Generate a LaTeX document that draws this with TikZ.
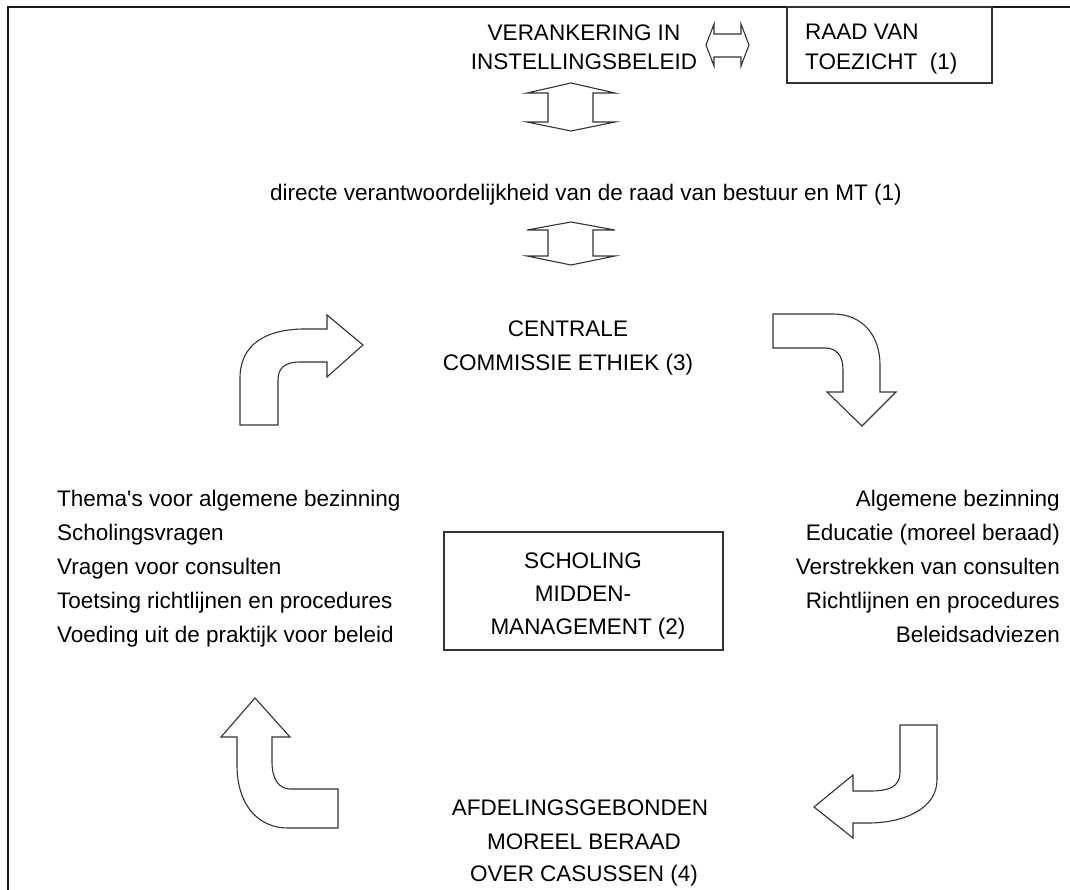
\documentclass[tikz,border=0pt]{standalone}
\usepackage{fontspec}
\setmainfont{Liberation Sans}
\begin{document}
\begin{tikzpicture}[x=1pt,y=-1pt,
  txt/.style={inner sep=0pt, anchor=base, font=\fontsize{22.5}{27}\selectfont},
  txtl/.style={txt, anchor=base west},
  txtr/.style={txt, anchor=base east},
  bigarrow/.style={draw=black!80, line width=1.1pt, line join=miter, fill=white},
  box/.style={draw=black!80, line width=1.3pt, inner sep=0pt}]
\useasboundingbox (0,0) rectangle (1070,890);
% frame
\draw[line width=2pt, black!90] (8,890) -- (8,7) -- (1070,7);
% top
\node[txt] (ver1) at (584,41) {VERANKERING IN};
\node[txt] (ver2) at (584,70) {INSTELLINGSBELEID};
\node[box, minimum width=205pt, minimum height=76pt] (raad) at (889.5,45) {};
\node[txtl] (raad1) at (805,40) {RAAD VAN};
\node[txtl] (raad2) at (805,70) {TOEZICHT\ \ (1)};
\draw[bigarrow] (706,45) -- (714,24) -- (714,34) -- (741,34) -- (741,24) -- (749,45)
  -- (741,66) -- (741,57) -- (714,57) -- (714,66) -- cycle;
% vertical double arrows
\draw[bigarrow] (571,83) -- (615,93) -- (593,93) -- (593,122) -- (615,122) -- (571,131)
  -- (527,122) -- (548,122) -- (548,93) -- (527,93) -- cycle;
\node[txt] (dir) at (586,201) {directe verantwoordelijkheid van de raad van bestuur en MT (1)};
\draw[bigarrow] (571,222) -- (615,230) -- (593,230) -- (593,256) -- (615,256) -- (571,265)
  -- (527,256) -- (548,256) -- (548,230) -- (527,230) -- cycle;
% central
\node[txt] (cen1) at (568,336) {CENTRALE};
\node[txt] (cen2) at (568,370) {COMMISSIE ETHIEK (3)};
% bent arrows
\draw[bigarrow] (240,425) -- (240,378) .. controls (240,345) and (265,329) .. (305,329)
  -- (327,329) -- (327,315) -- (363,345) -- (327,377) -- (327,362) -- (300,362)
  .. controls (285,362) and (278,368) .. (278,380) -- (278,425) -- cycle;
\draw[bigarrow] (773,314) -- (833,314) .. controls (862,314) and (880,335) .. (880,365)
  -- (880,392) -- (896,392) -- (862,426) -- (827,392) -- (843,392) -- (843,370)
  .. controls (843,356) and (837,348) .. (825,348) -- (773,348) -- cycle;
\draw[bigarrow] (255,698) -- (290,737) -- (272,737) -- (272,762)
  .. controls (272,779) and (279,789) .. (290,789) -- (338,789) -- (338,828) -- (288,828)
  .. controls (258,828) and (237,805) .. (237,765) -- (237,737) -- (221,737) -- cycle;
\draw[bigarrow] (900,725) -- (937,725) -- (937,780) .. controls (937,808) and (905,823) .. (868,823)
  -- (853,823) -- (853,838) -- (814,807) -- (853,775) -- (853,791) -- (870,791)
  .. controls (889,791) and (900,787) .. (900,772) -- (900,725) -- cycle;
% left list
\node[txtl] (l1) at (57,506) {Thema\textquotesingle s voor algemene bezinning};
\node[txtl] (l2) at (57,540) {Scholingsvragen};
\node[txtl] (l3) at (57,574) {Vragen voor consulten};
\node[txtl] (l4) at (57,608) {Toetsing richtlijnen en procedures};
\node[txtl] (l5) at (57,642) {Voeding uit de praktijk voor beleid};
% right list
\node[txtr] (r1) at (1060,506) {Algemene bezinning};
\node[txtr] (r2) at (1060,540) {Educatie (moreel beraad)};
\node[txtr] (r3) at (1060,574) {Verstrekken van consulten};
\node[txtr] (r4) at (1060,608) {Richtlijnen en procedures};
\node[txtr] (r5) at (1060,642) {Beleidsadviezen};
% scholing box
\node[box, minimum width=279pt, minimum height=118pt] (schol) at (583.5,591) {};
\node[txt] (s1) at (583,568) {SCHOLING};
\node[txt] (s2) at (583,601) {MIDDEN-};
\node[txt] (s3) at (588,634) {MANAGEMENT (2)};
% bottom
\node[txt] (a1) at (580,815) {AFDELINGSGEBONDEN};
\node[txt] (a2) at (584,849) {MOREEL BERAAD};
\node[txt] (a3) at (584,881) {OVER CASUSSEN (4)};
\end{tikzpicture}
\end{document}
